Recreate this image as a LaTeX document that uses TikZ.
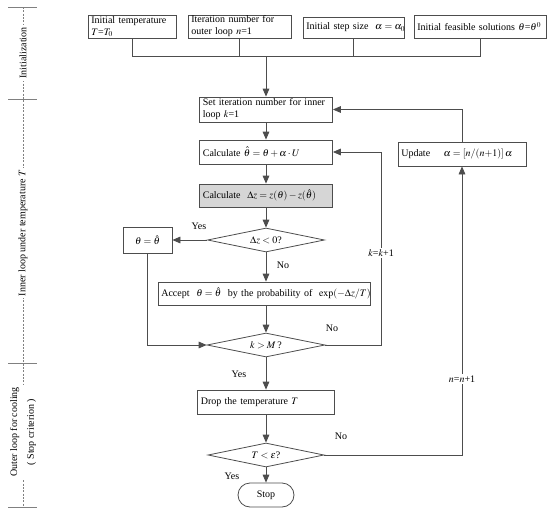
\documentclass[tikz,border=0pt]{standalone}
\usepackage{mathptmx}
\usepackage[no-math]{fontspec}
\setmainfont{Liberation Serif}
\usetikzlibrary{arrows.meta,shapes.geometric}
\definecolor{linec}{HTML}{4D4D4D}
\definecolor{fillc}{HTML}{D6D6D6}
\definecolor{tickc}{HTML}{808080}
\begin{document}
\begin{tikzpicture}[x=0.75pt,y=-0.75pt,
  font=\fontsize{7.5}{9}\selectfont,
  every node/.style={inner sep=0pt},
  line/.style={draw=linec, line width=0.6pt},
  arr/.style={line, -{Triangle[length=6pt,width=5pt]}},
  box/.style={draw=linec, line width=0.6pt, rectangle, align=left, inner xsep=2.5pt, inner ysep=0.5pt},
  dia/.style={draw=linec, line width=0.6pt, diamond, aspect=4.9, inner sep=0pt},
  lab/.style={inner sep=1pt},
  onl/.style={fill=white, inner sep=1pt},
  side/.style={rotate=90, fill=white, inner sep=1.5pt},
]
\useasboundingbox (0,0) rectangle (550,514);

% left side scale
\draw[tickc, line width=0.5pt, dash pattern=on 1.5pt off 1pt] (23,7) -- (23,507);
\foreach \yy in {7,99,363,507} \draw[tickc, line width=0.7pt] (8,\yy) -- (37,\yy);
\node[side] (L1) at (23,53) {Initialization};
\node[side] (L2) at (23,233) {Inner loop under temperature $T$};
\node[side, align=center, font=\fontsize{7.5}{12.5}\selectfont] (L3) at (23,432) {Outer loop for cooling\\( Stop criterion )};

% initialization boxes
\node[box, minimum height=17.25pt, text width=61pt] (b1) at (132,26.5) {Initial temperature\\$T$=$T_0$};
\node[box, minimum height=17.25pt, text width=72.25pt] (b2) at (239.5,26.5) {Iteration number for\\outer loop $n$=1};
\node[box, minimum height=15.75pt, text width=70.75pt] (b3) at (353.5,27.5) {\mbox{Initial step size\ \ $\alpha=\alpha_0$}};
\node[box, minimum height=17.25pt, text width=94pt] (b4) at (480,26.5) {\mbox{Initial feasible solutions $\theta$=$\theta^0$}};
\coordinate (j) at (266,56);

% main column
\node[box, minimum height=18.75pt, text width=94.75pt] (s1) at (266,109.5) {Set iteration number for inner\\loop $k$=1};
\node[box, minimum height=18pt, text width=94.75pt] (c1) at (266,152) {\mbox{Calculate $\hat\theta=\theta+\alpha\cdot U$}};
\node[box, fill=fillc, minimum height=17.25pt, text width=94.75pt] (c2) at (266,195.5) {\mbox{Calculate\ \ $\Delta z=z(\theta)-z(\hat\theta)$}};
\node[dia, minimum width=87.75pt, minimum height=18pt] (d1) at (266,240) {$\Delta z<0$?};
\node[box, align=center, minimum width=36.75pt, minimum height=19.5pt] (th) at (147.5,240) {$\theta=\hat\theta$};
\node[box, minimum height=17.25pt, text width=154pt] (acc) at (264,293.5) {\mbox{Accept\ \ $\theta=\hat\theta$\ \ by the probability of\ \ $\exp(-\Delta z/T)$}};
\node[dia, minimum width=88.5pt, minimum height=18pt] (d2) at (266,345) {$k>M$\,?};
\node[box, minimum height=18pt, text width=97.75pt] (drop) at (266,402) {Drop the temperature $T$};
\node[dia, minimum width=87pt, minimum height=18pt] (d3) at (266,455) {$T<\varepsilon$?};
\node[draw=linec, line width=0.6pt, rounded corners=9pt, minimum width=42pt, minimum height=18pt] (stop) at (266,495) {Stop};
\node[box, minimum height=18pt, text width=91pt] (upd) at (462,154) {\mbox{Update\quad\ $\alpha=[n/(n{+}1)]\,\alpha$}};
\coordinate (kk) at (381,152);

% connectors
\draw[line] (b1.south) -- (b1.south |- j) -- (b4.south |- j) -- (b4.south);
\draw[line] (b2.south) -- (b2.south |- j);
\draw[line] (b3.south) -- (b3.south |- j);
\draw[arr] (j) -- (s1.north);
\draw[arr] (s1.south) -- (c1.north);
\draw[arr] (c1.south) -- (c2.north);
\draw[arr] (c2.south) -- (d1.north);
\draw[arr] (d1.west) -- (th.east);
\draw[arr] (d1.south) -- (d1.south |- acc.north);
\draw[arr] (d1.south |- acc.south) -- (d2.north);
\draw[arr] (th.south) |- (d2.west);
\draw[arr] (d2.east) -| (kk) -- (c1.east);
\draw[arr] (d2.south) -- (drop.north);
\draw[arr] (drop.south) -- (d3.north);
\draw[arr] (d3.south) -- (stop.north);
\draw[arr] (d3.east) -| (upd.south);
\draw[arr] (upd.north) |- (s1.east);

% labels
\node[lab] (y1) at (199,226) {Yes};
\node[lab] (n1) at (283,265) {No};
\node[lab] (n2) at (332,328) {No};
\node[lab] (y2) at (239,374) {Yes};
\node[lab] (n3) at (341,436) {No};
\node[lab] (y3) at (232,476) {Yes};
\node[onl] (kl) at (381,253) {$k$=$k$+1};
\node[onl] (nl) at (462,379) {$n$=$n$+1};
\end{tikzpicture}
\end{document}
